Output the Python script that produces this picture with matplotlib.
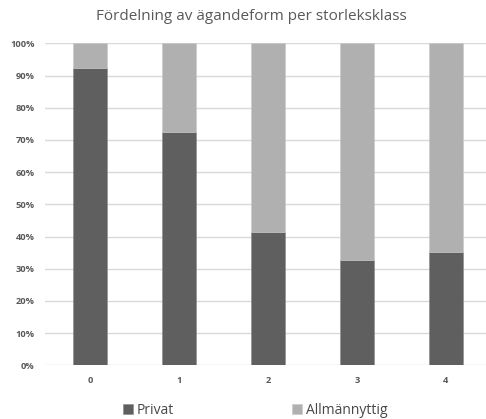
import matplotlib
matplotlib.use("Agg")
import matplotlib.pyplot as plt
import numpy as np

categories = ["0", "1", "2", "3", "4"]
privat = [92.5, 72.4, 41.3, 32.6, 35.3]
allmannyttig = [100 - v for v in privat]
yticks = [0, 10, 20, 30, 40, 50, 60, 70, 80, 90, 100]

plt.rcParams['font.family'] = ['Open Sans', 'DejaVu Sans']

fig = plt.figure(figsize=(4.86, 4.19), dpi=100)
ax = fig.add_axes([0.0936, 0.128, 0.9156, 0.7685])

x = np.arange(len(categories))
w = 0.39
ax.bar(x, privat, w, color="#5f5f5f", edgecolor="#8a8a8a", linewidth=0.4, label="Privat", zorder=3)
ax.bar(x, allmannyttig, w, bottom=privat, color="#b0b0b0", edgecolor="#c8c8c8", linewidth=0.4,
       label="Allmännyttig", zorder=3)

ax.set_xlim(-0.5, 4.5)
ax.set_ylim(0, 100)
ax.set_yticks(yticks)
ax.set_yticklabels([f"{t}%" for t in yticks])
ax.set_xticks(x)
ax.set_xticklabels(categories)
ax.grid(axis="y", color="#d9d9d9", linewidth=1, zorder=0)
for s in ax.spines.values():
    s.set_visible(False)
ax.tick_params(length=0, labelsize=6.7, labelcolor="#595959")
for lab in ax.get_xticklabels() + ax.get_yticklabels():
    lab.set_fontweight("bold")
ax.tick_params(axis="x", pad=8)
ax.tick_params(axis="y", pad=8)

fig.text(0.517, 1 - 16 / 419, "Fördelning av ägandeform per storleksklass", ha="center", va="center",
         fontsize=11, color="#595959")

fig.legend(loc="center", bbox_to_anchor=(0.525, 1 - 410 / 419), ncol=2, frameon=False,
           fontsize=10, handlelength=0.7, handleheight=0.7, handletextpad=0.3,
           columnspacing=8.5, labelcolor="#474747")

fig.savefig("out.png", dpi=100)
